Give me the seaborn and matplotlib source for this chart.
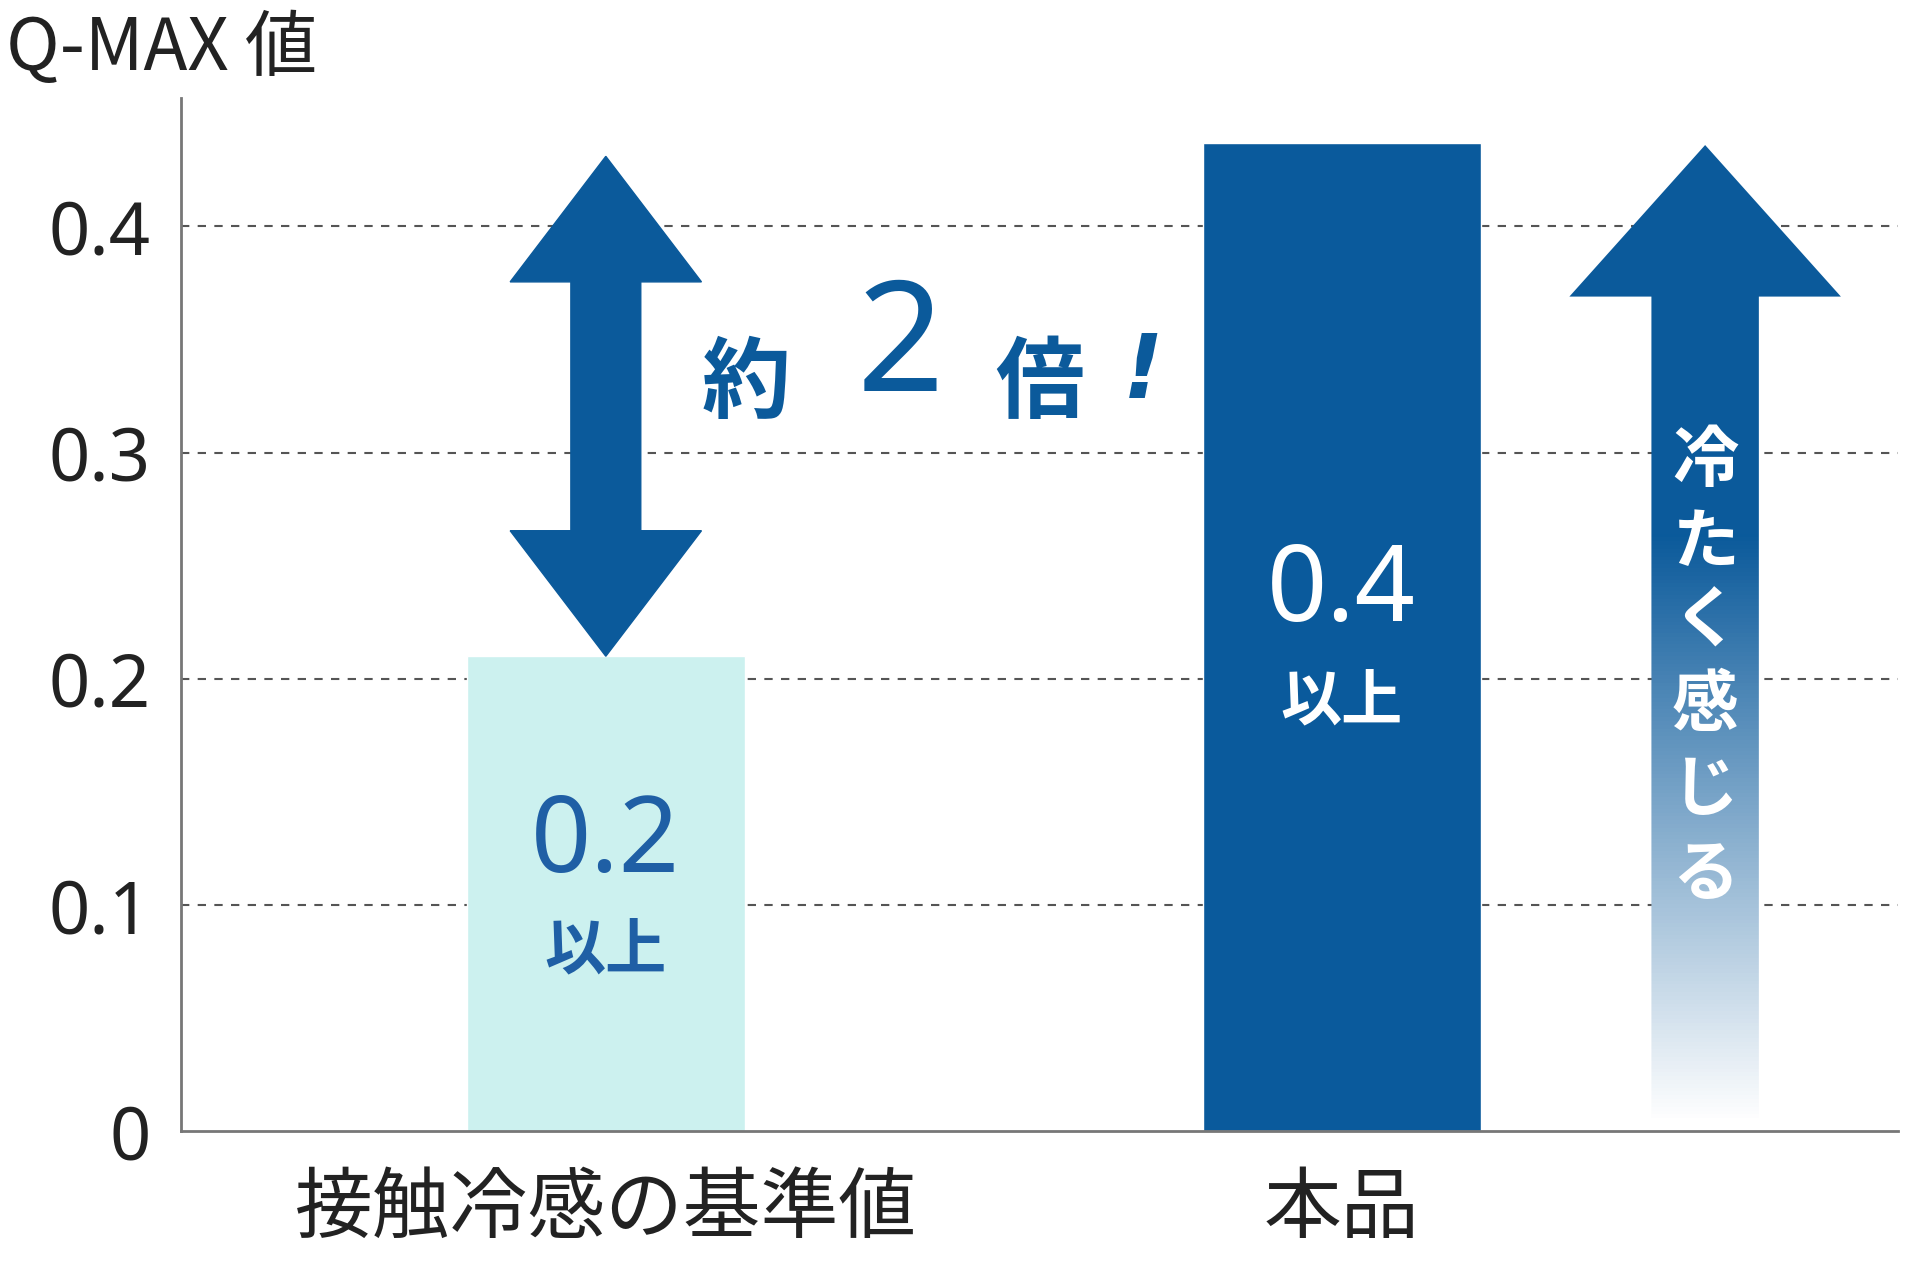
import numpy as np
import pandas as pd
import matplotlib
matplotlib.use("Agg")
import matplotlib.pyplot as plt
import seaborn as sns
from matplotlib.patches import Polygon
from matplotlib.colors import LinearSegmentedColormap

categories = ["接触冷感の基準値", "本品"]
values = [0.21, 0.437]
bar_labels = ["0.2", "0.4"]
bar_sub = "以上"
yticks = [0, 0.1, 0.2, 0.3, 0.4]
ytick_labels = ["0", "0.1", "0.2", "0.3", "0.4"]

LIGHT = "#CCF1EF"
DARK = "#0A5A9C"

sns.set_theme(style="white")
plt.rcParams['font.family'] = ['Noto Sans CJK JP', 'DejaVu Sans']

fig = plt.figure(figsize=(19.2, 12.8), dpi=100)
ax = fig.add_axes([0.0944, 0.1162, 0.8941, 0.8076])
df = pd.DataFrame({"cat": categories, "val": values})
sns.barplot(data=df, x="cat", y="val", hue="cat", palette=[LIGHT, DARK],
            width=0.378, legend=False, ax=ax, saturation=1)
ax.set_xlim(-0.577, 1.756)
ax.set_ylim(0, 0.457)
ax.set_yticks(yticks)
ax.set_yticklabels(ytick_labels, fontsize=52, color="#222222", family=['Noto Sans'])
ax.tick_params(axis='y', length=0, pad=22)
ax.tick_params(axis='x', length=0, pad=28, labelsize=56, labelcolor="#222222")
ax.set_xlabel(""); ax.set_ylabel("")
for y in yticks[1:]:
    ax.axhline(y, color="#555555", ls=(0, (4, 4)), lw=1.5, zorder=0)
for s in ["top", "right"]:
    ax.spines[s].set_visible(False)
for s in ["left", "bottom"]:
    ax.spines[s].set_color("#777777"); ax.spines[s].set_linewidth(2)
fig.text(0.003, 0.99, "Q-MAX 値", fontsize=52, color="#222222", va="top", ha="left")

blue_txt = "#1F5FA5"
ax.text(0, 0.127, bar_labels[0], ha="center", va="center", fontsize=76, fontweight="bold", color=blue_txt, family=['Noto Sans'])
ax.text(0, 0.08, bar_sub, ha="center", va="center", fontsize=44, fontweight="bold", color=blue_txt)
ax.text(1, 0.238, bar_labels[1], ha="center", va="center", fontsize=76, fontweight="bold", color="white", family=['Noto Sans'])
ax.text(1, 0.19, bar_sub, ha="center", va="center", fontsize=44, fontweight="bold", color="white")

# double arrow
sw, hw = 0.095 / 2, 0.26 / 2
top, bot = 0.431, values[0]
hl = 0.0555
pts = [(0, top), (hw, top - hl), (sw, top - hl), (sw, bot + hl), (hw, bot + hl), (0, bot),
       (-hw, bot + hl), (-sw, bot + hl), (-sw, top - hl), (-hw, top - hl)]
ax.add_patch(Polygon(pts, closed=True, color="#0B5A9B", zorder=3))
ax.text(0.19, 0.33, "約", fontsize=64, fontweight="bold", color="#0B5A9B", ha="center", va="center")
ax.text(0.40, 0.345, "2", fontsize=110, fontweight="bold", color="#0B5A9B", ha="center", va="center", family=['Noto Sans'])
ax.text(0.59, 0.33, "倍", fontsize=64, fontweight="bold", color="#0B5A9B", ha="center", va="center")
ax.text(0.73, 0.335, "!", fontsize=64, fontweight="bold", style="italic", color="#0B5A9B", ha="center", va="center", family=['DejaVu Sans'])

# up arrow with gradient
cx = 1.494
sw2, hw2 = 0.146 / 2, 0.369 / 2
atop, abot, ahead = 0.436, 0.004, 0.369
pts2 = [(cx, atop), (cx + hw2, ahead), (cx + sw2, ahead), (cx + sw2, abot),
        (cx - sw2, abot), (cx - sw2, ahead), (cx - hw2, ahead)]
poly = Polygon(pts2, closed=True, facecolor="none", edgecolor="none")
ax.add_patch(poly)
cmap = LinearSegmentedColormap.from_list("g", [(0, "#FFFFFF"), (0.6, "#0B5A9B"), (1, "#0B5A9B")])
grad = np.linspace(0, 1, 256).reshape(-1, 1)
im = ax.imshow(grad, cmap=cmap, aspect="auto", origin="lower",
               extent=[cx - hw2, cx + hw2, abot, atop], zorder=2)
im.set_clip_path(poly)
chars = "冷たく感じる"
ypx = [378, 445, 510, 578, 648, 718]
for ch, yp in zip(chars, ypx):
    ax.text(cx, (928 - yp) / 1857.5, ch, ha="center", va="center", fontsize=48,
            fontweight="bold", color="white", zorder=4)

fig.savefig("out.png", dpi=100, facecolor="white")
